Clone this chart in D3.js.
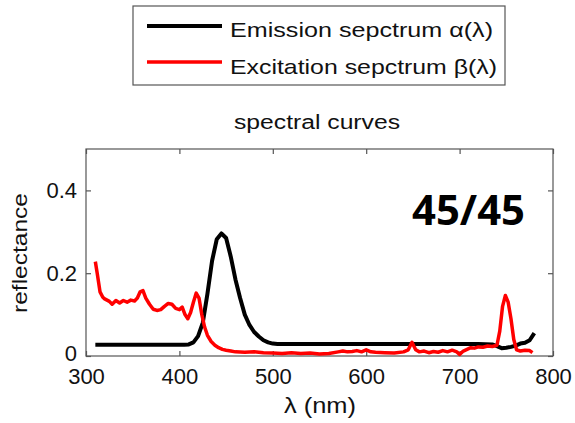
<!DOCTYPE html>
<html>
<head>
<meta charset="utf-8">
<script src="https://cdn.jsdelivr.net/npm/d3@7"></script>
<style>
  html, body { margin: 0; padding: 0; background: #fff; }
  svg text { font-family: "Liberation Sans", Arial, sans-serif; }
</style>
</head>
<body>
<svg id="chart" width="575" height="423"></svg>
<script>
// Emission spectrum alpha(lambda): wavelength (nm) and reflectance
const emissionWl = [310, 330, 350, 370, 390, 405, 410, 415, 420, 425, 430, 435, 440, 445, 450, 455, 460, 465, 470, 475, 480, 485, 490, 495, 500, 505, 520, 560, 600, 640, 680, 720, 735, 740, 745, 750, 755, 760, 765, 770, 775, 780];
const emissionVal = [0.027, 0.027, 0.027, 0.027, 0.027, 0.027, 0.028, 0.033, 0.048, 0.08, 0.15, 0.23, 0.282, 0.296, 0.285, 0.24, 0.185, 0.14, 0.1, 0.075, 0.058, 0.047, 0.038, 0.033, 0.03, 0.029, 0.029, 0.029, 0.029, 0.029, 0.029, 0.029, 0.028, 0.024, 0.019, 0.02, 0.022, 0.025, 0.03, 0.032, 0.038, 0.055];

// Excitation spectrum beta(lambda)
const excitationWl = [310, 312, 315, 318, 320, 325, 328, 332, 336, 340, 344, 348, 352, 355, 358, 361, 364, 368, 372, 376, 380, 384, 388, 392, 396, 400, 403, 406, 409, 412, 415, 418, 421, 424, 427, 430, 434, 438, 442, 446, 450, 455, 460, 470, 480, 490, 500, 510, 520, 530, 540, 550, 560, 570, 575, 580, 585, 590, 595, 600, 605, 610, 620, 630, 640, 645, 649, 653, 657, 662, 667, 672, 677, 682, 687, 692, 697, 700, 704, 708, 712, 716, 720, 725, 730, 735, 740, 743, 746, 749, 752, 755, 758, 761, 765, 770, 775, 778];
const excitationVal = [0.228, 0.2, 0.155, 0.142, 0.138, 0.132, 0.125, 0.134, 0.128, 0.134, 0.13, 0.135, 0.133, 0.14, 0.155, 0.158, 0.14, 0.125, 0.113, 0.11, 0.112, 0.12, 0.127, 0.125, 0.115, 0.112, 0.118, 0.1, 0.09, 0.105, 0.13, 0.152, 0.14, 0.1, 0.07, 0.05, 0.035, 0.026, 0.02, 0.016, 0.014, 0.012, 0.01, 0.009, 0.01, 0.008, 0.007, 0.006, 0.008, 0.006, 0.007, 0.005, 0.006, 0.01, 0.012, 0.01, 0.011, 0.013, 0.01, 0.015, 0.01, 0.009, 0.008, 0.007, 0.01, 0.015, 0.033, 0.015, 0.01, 0.012, 0.008, 0.011, 0.009, 0.013, 0.01, 0.014, 0.01, 0.004, 0.012, 0.016, 0.02, 0.019, 0.022, 0.021, 0.024, 0.023, 0.026, 0.06, 0.12, 0.146, 0.13, 0.09, 0.04, 0.015, 0.012, 0.014, 0.013, 0.008];

const xTicks = [300, 400, 500, 600, 700, 800];
const yTicks = [0, 0.2, 0.4];
const legendLabels = ["Emission sepctrum \u03B1(\u03BB)", "Excitation sepctrum \u03B2(\u03BB)"];
const seriesColors = ["#000000", "#ff0000"];
const titleText = "spectral curves";
const xLabel = "\u03BB (nm)";
const yLabel = "reflectance";
const badgeText = "45/45";

const svg = d3.select("#chart");
const box = { left: 86, top: 149, right: 553, bottom: 356 };

const x = d3.scaleLinear().domain([300, 800]).range([box.left, box.right]);
const y = d3.scaleLinear().domain([0, 0.5]).range([box.bottom, box.top]);

// plot frame
svg.append("rect")
  .attr("x", box.left).attr("y", box.top)
  .attr("width", box.right - box.left).attr("height", box.bottom - box.top)
  .attr("fill", "#fff").attr("stroke", "#555").attr("stroke-width", 1.2);

const tickLen = 5;
const tickStroke = "#555";

// bottom axis with labels (ticks inward)
const xAxis = svg.append("g").attr("transform", `translate(0,${box.bottom})`)
  .call(d3.axisBottom(x).tickValues(xTicks).tickSize(-tickLen).tickPadding(12).tickFormat(d3.format("d")));
// top axis, ticks only
const xAxisTop = svg.append("g").attr("transform", `translate(0,${box.top})`)
  .call(d3.axisTop(x).tickValues(xTicks).tickSize(-tickLen).tickFormat(""));
// left axis with labels
const yAxis = svg.append("g").attr("transform", `translate(${box.left},0)`)
  .call(d3.axisLeft(y).tickValues(yTicks).tickSize(-tickLen).tickPadding(9).tickFormat(d => d === 0 ? "0" : d3.format(".1f")(d)));
// right axis, ticks only
const yAxisRight = svg.append("g").attr("transform", `translate(${box.right},0)`)
  .call(d3.axisRight(y).tickValues(yTicks).tickSize(-tickLen).tickFormat(""));

[xAxis, xAxisTop, yAxis, yAxisRight].forEach(g => {
  g.select(".domain").remove();
  g.selectAll(".tick line").attr("stroke", tickStroke).attr("stroke-width", 1.2);
  g.selectAll(".tick text").attr("fill", "#111").style("font-size", "22px")
    .style("font-family", "'Liberation Sans', Arial, sans-serif");
});
// nudge the zero label up a little so it clears the 300 label
yAxis.selectAll(".tick").filter(d => d === 0).select("text").attr("dy", "0.2em");

// lines
const emission = emissionWl.map((w, i) => [w, emissionVal[i]]);
const excitation = excitationWl.map((w, i) => [w, excitationVal[i]]);

const line = d3.line().x(d => x(d[0])).y(d => y(d[1])).curve(d3.curveLinear);

svg.append("path").datum(emission)
  .attr("d", line).attr("fill", "none")
  .attr("stroke", seriesColors[0]).attr("stroke-width", 4).attr("stroke-linejoin", "round");

svg.append("path").datum(excitation)
  .attr("d", line).attr("fill", "none")
  .attr("stroke", seriesColors[1]).attr("stroke-width", 3.5).attr("stroke-linejoin", "round");

// title
svg.append("text").attr("x", 317).attr("y", 129).attr("text-anchor", "middle")
  .style("font-size", "20px").attr("fill", "#111")
  .attr("textLength", 166).attr("lengthAdjust", "spacingAndGlyphs").text(titleText);

// axis labels
svg.append("text").attr("x", 320).attr("y", 413).attr("text-anchor", "middle")
  .style("font-size", "22px").attr("fill", "#111")
  .attr("textLength", 72).attr("lengthAdjust", "spacingAndGlyphs").text(xLabel);

svg.append("text").attr("transform", "translate(27,253) rotate(-90)").attr("text-anchor", "middle")
  .style("font-size", "20px").attr("fill", "#111")
  .attr("textLength", 120).attr("lengthAdjust", "spacingAndGlyphs").text(yLabel);

// badge text inside the plot
svg.append("text").attr("x", 412).attr("y", 225)
  .style("font-size", "41px").style("font-weight", "bold")
  .style("font-family", "'Open Sans', 'Noto Sans', sans-serif")
  .attr("textLength", 113).attr("lengthAdjust", "spacingAndGlyphs")
  .attr("fill", "#000").text(badgeText);

// legend
const legend = svg.append("g");
legend.append("rect").attr("x", 133).attr("y", 6).attr("width", 372).attr("height", 79)
  .attr("fill", "#fff").attr("stroke", "#555").attr("stroke-width", 1.2);

const legendRows = [26, 62];
const legendBaselines = [37, 74];
const legendWidths = [263, 267];
legendLabels.forEach((lab, i) => {
  const ly = legendRows[i];
  legend.append("line").attr("x1", 147).attr("x2", 222).attr("y1", ly).attr("y2", ly)
    .attr("stroke", seriesColors[i]).attr("stroke-width", i === 0 ? 4 : 3.5);
  legend.append("text").attr("x", 230).attr("y", legendBaselines[i])
    .style("font-size", "21px").attr("fill", "#111")
    .attr("textLength", legendWidths[i]).attr("lengthAdjust", "spacingAndGlyphs").text(lab);
});
</script>
</body>
</html>
